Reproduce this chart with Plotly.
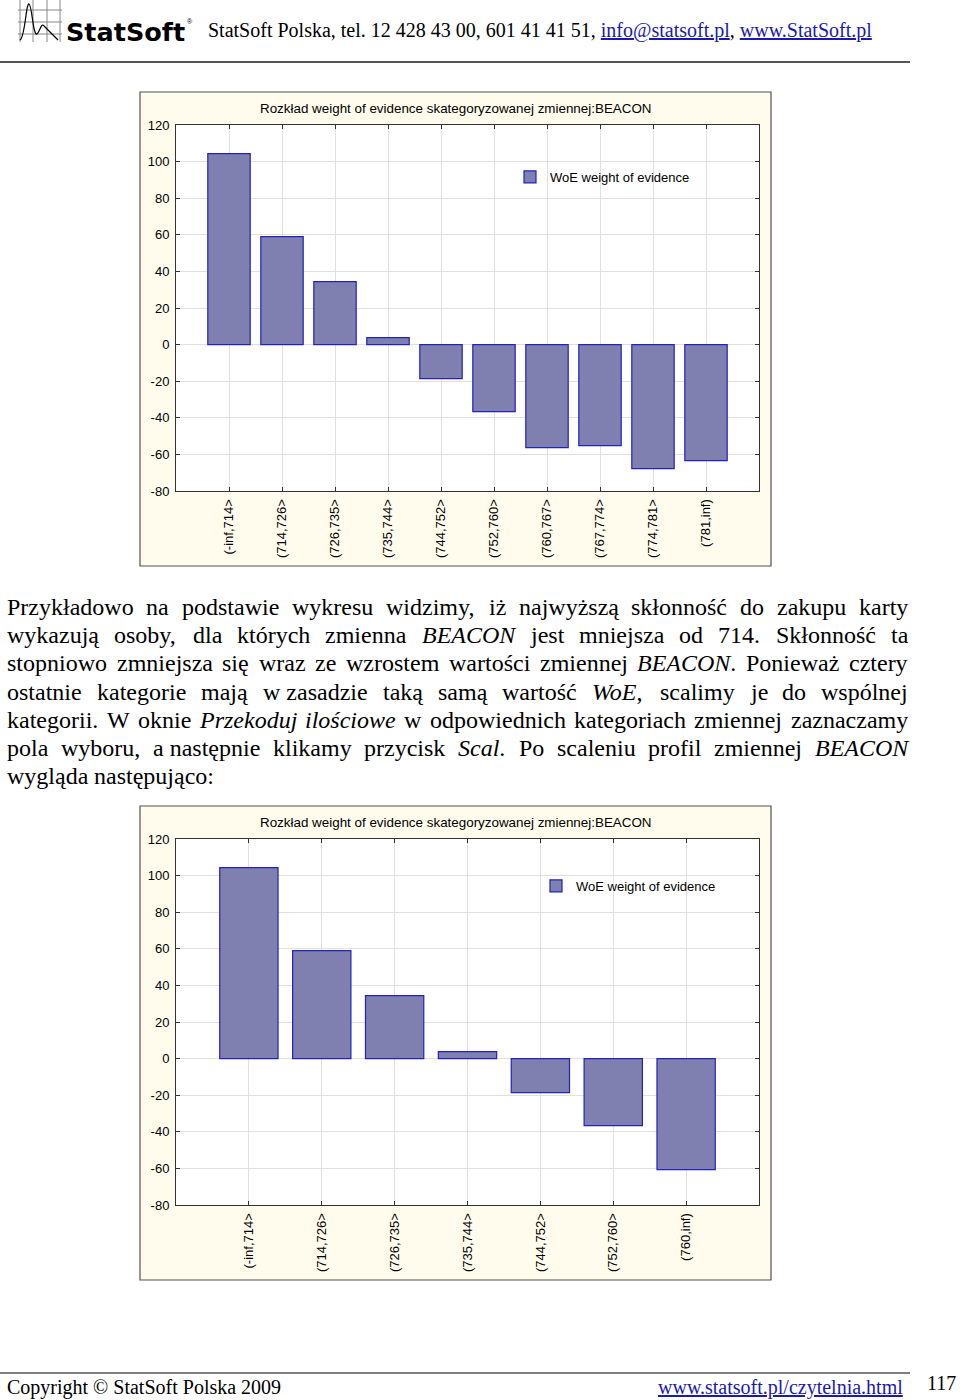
import plotly.graph_objects as go

W, H = 960, 1400

# ---------------- data ----------------
categories_1 = ["(-inf,714>", "(714,726>", "(726,735>", "(735,744>", "(744,752>",
                "(752,760>", "(760,767>", "(767,774>", "(774,781>", "(781,inf)"]
woe_1 = [104.4, 59.0, 34.4, 3.8, -18.6, -36.6, -56.3, -55.2, -67.8, -63.4]

categories_2 = ["(-inf,714>", "(714,726>", "(726,735>", "(735,744>", "(744,752>",
                "(752,760>", "(760,inf)"]
woe_2 = [104.4, 59.0, 34.4, 3.8, -18.6, -36.6, -60.7]

y_ticks = [-80, -60, -40, -20, 0, 20, 40, 60, 80, 100, 120]
y_tick_text = [str(v) for v in y_ticks]
chart_title = "Rozkład weight of evidence skategoryzowanej zmiennej:BEACON"
series_name = "WoE weight of evidence"

# paragraph (words; text between underscores is italic)
body_lines = [
    "Przykładowo na podstawie wykresu widzimy, iż najwyższą skłonność do zakupu karty",
    "wykazują osoby, dla których zmienna _BEACON_ jest mniejsza od 714. Skłonność ta",
    "stopniowo zmniejsza się wraz ze wzrostem wartości zmiennej _BEACON_. Ponieważ cztery",
    "ostatnie kategorie mają w\u00a0zasadzie taką samą wartość _WoE_, scalimy je do wspólnej",
    "kategorii. W oknie _Przekoduj_ _ilościowe_ w odpowiednich kategoriach zmiennej zaznaczamy",
    "pola wyboru, a\u00a0następnie klikamy przycisk _Scal_. Po scaleniu profil zmiennej _BEACON_",
    "wygląda następująco:",
]

# ---------------- helpers ----------------
def px(x):
    return x / W


def py(y):
    return 1 - y / H


# Times-compatible advance widths (1/1000 em) used to justify the paragraph lines
RM = dict(zip("ABCDEFGHIJKLMNOPQRSTUVWXYZ",
              [722, 667, 667, 722, 611, 556, 722, 722, 333, 389, 722, 611, 889, 722, 722, 556,
               722, 667, 556, 611, 722, 722, 944, 722, 722, 611]))
RM.update(zip("abcdefghijklmnopqrstuvwxyz",
              [444, 500, 444, 500, 444, 333, 500, 500, 278, 278, 500, 278, 778, 500, 500, 500,
               500, 333, 389, 278, 500, 500, 722, 500, 500, 444]))
IT = dict(zip("ABCDEFGHIJKLMNOPQRSTUVWXYZ",
              [611, 611, 667, 722, 611, 611, 722, 722, 333, 444, 667, 556, 833, 667, 722, 611,
               722, 611, 500, 556, 722, 611, 833, 611, 556, 556]))
IT.update(zip("abcdefghijklmnopqrstuvwxyz",
              [500, 500, 444, 500, 444, 278, 500, 500, 278, 278, 444, 278, 722, 500, 500, 500,
               500, 389, 389, 278, 500, 444, 667, 444, 444, 389]))
for t in (RM, IT):
    t.update({" ": 250, "\u00a0": 250, ",": 250, ".": 250, ":": 278})
    t.update({d: 500 for d in "0123456789"})
ACCENT = {"ą": "a", "ę": "e", "ł": "l", "ś": "s", "ż": "z", "ź": "z", "ó": "o", "ć": "c",
          "ń": "n", "Ś": "S", "Ł": "L", "Ż": "Z"}
FS = 24


def word_parts(word):
    parts = word.split("_")
    return [(p, i % 2 == 1) for i, p in enumerate(parts) if p]


def word_width(word):
    total = 0
    for text, italic in word_parts(word):
        table = IT if italic else RM
        total += sum(table.get(ACCENT.get(c, c), 500) for c in text)
    return total * FS / 1000


def word_markup(word):
    return "".join("<i>%s</i>" % t if it else t for t, it in word_parts(word))


BAR_FILL = "#7f7fb0"
BAR_LINE = "#2222c0"
CREAM = "#fffcee"
SERIF = "Liberation Serif"
SANS = "Liberation Sans"
LINK = "#1a1ab0"

fig = go.Figure()

fig.add_trace(go.Bar(x=categories_1, y=woe_1, name=series_name, width=0.8,
                     marker=dict(color=BAR_FILL, line=dict(color=BAR_LINE, width=1.2)),
                     xaxis="x", yaxis="y", legend="legend"))
fig.add_trace(go.Bar(x=categories_2, y=woe_2, name=series_name, width=0.8,
                     marker=dict(color=BAR_FILL, line=dict(color=BAR_LINE, width=1.2)),
                     xaxis="x2", yaxis="y2", legend="legend2"))

axis_common = dict(showline=True, linecolor="#333333", linewidth=1, mirror="ticks",
                   ticks="inside", ticklen=4, tickcolor="#333333", automargin=False,
                   showgrid=True, gridcolor="#e0e0e0", gridwidth=1, zeroline=False,
                   tickfont=dict(family=SANS, size=13, color="#000000"))

y_common = dict(axis_common, range=[-80, 120], tickvals=y_ticks, ticktext=y_tick_text,
                ticklabelstandoff=3)
x_common = dict(axis_common, tickangle=-90, type="category", ticklabelstandoff=2)

fig.update_layout(
    template="none",
    width=W, height=H,
    margin=dict(l=0, r=0, t=0, b=0, pad=0, autoexpand=False),
    paper_bgcolor="white", plot_bgcolor="white",
    bargap=0.2,
    xaxis=dict(x_common, domain=[px(176), px(759)], range=[-1, len(categories_1)], anchor="y"),
    yaxis=dict(y_common, domain=[py(491), py(125)], anchor="x"),
    xaxis2=dict(x_common, domain=[px(176), px(759)], range=[-1, len(categories_2)], anchor="y2"),
    yaxis2=dict(y_common, domain=[py(1205), py(839)], anchor="x2"),
    legend=dict(x=px(510), y=py(177), xanchor="left", yanchor="middle", borderwidth=0,
                bgcolor="rgba(0,0,0,0)", font=dict(family=SANS, size=13, color="#000")),
    legend2=dict(x=px(536), y=py(886), xanchor="left", yanchor="middle", borderwidth=0,
                 bgcolor="rgba(0,0,0,0)", font=dict(family=SANS, size=13, color="#000")),
    showlegend=True,
)

shapes = []
annotations = []

# chart frames (cream background boxes) and white plot areas
for top, bottom, ptop, pbot in [(92, 566, 125, 491), (806, 1280, 839, 1205)]:
    shapes.append(dict(type="rect", xref="paper", yref="paper", layer="below",
                       x0=px(140), x1=px(771), y0=py(bottom), y1=py(top),
                       fillcolor=CREAM, line=dict(color="#505050", width=1.2)))
    shapes.append(dict(type="rect", xref="paper", yref="paper", layer="below",
                       x0=px(176), x1=px(759), y0=py(pbot), y1=py(ptop),
                       fillcolor="white", line=dict(width=0)))

for ty in [108, 822]:
    annotations.append(dict(text=chart_title, xref="paper", yref="paper", x=px(456), y=py(ty),
                            xanchor="center", yanchor="middle", showarrow=False,
                            font=dict(family=SANS, size=13.4, color="#000")))

# ---------------- header ----------------
for gx in [20, 33, 47, 60]:
    shapes.append(dict(type="line", xref="paper", yref="paper", x0=px(gx), x1=px(gx),
                       y0=py(0), y1=py(42), line=dict(color="#888888", width=1)))
for gy in [10, 22, 34]:
    shapes.append(dict(type="line", xref="paper", yref="paper", x0=px(18), x1=px(62),
                       y0=py(gy), y1=py(gy), line=dict(color="#888888", width=1)))
curve = "M {} {} C {} {} {} {} {} {} C {} {} {} {} {} {} C {} {} {} {} {} {}".format(
    px(20), py(40), px(25), py(38), px(26), py(3), px(29), py(4),
    px(32), py(5), px(33), py(36), px(37), py(34),
    px(40), py(32), px(41), py(22), px(44), py(26))
shapes.append(dict(type="path", xref="paper", yref="paper", path=curve,
                   line=dict(color="#000", width=1.2)))
shapes.append(dict(type="line", xref="paper", yref="paper", x0=px(44), x1=px(58),
                   y0=py(26), y1=py(40), line=dict(color="#000", width=1.2)))

annotations.append(dict(text="<b>StatSoft</b>", xref="paper", yref="paper",
                        x=px(64), y=py(32), xanchor="left", yanchor="middle", showarrow=False,
                        font=dict(family="DejaVu Sans", size=25.5, color="#000")))
annotations.append(dict(text="®", xref="paper", yref="paper",
                        x=px(185), y=py(22), xanchor="left", yanchor="middle", showarrow=False,
                        font=dict(family=SANS, size=7, color="#000")))
annotations.append(dict(
    text="StatSoft Polska, tel. 12 428 43 00, 601 41 41 51, "
         "<span style='color:%s'><u>info@statsoft.pl</u></span>, "
         "<span style='color:%s'><u>www.StatSoft.pl</u></span>" % (LINK, LINK),
    xref="paper", yref="paper", x=px(206), y=py(31), xanchor="left", yanchor="middle",
    showarrow=False, font=dict(family=SERIF, size=20, color="#000")))
shapes.append(dict(type="line", xref="paper", yref="paper", x0=0, x1=px(910),
                   y0=py(62), y1=py(62), line=dict(color="#555555", width=2)))

# ---------------- justified paragraph ----------------
X_LEFT, X_RIGHT = 5, 906
for i, line in enumerate(body_lines):
    ly = 607 + 28.2 * i
    words = line.split(" ")
    widths = [word_width(w) for w in words]
    last = i == len(body_lines) - 1
    if last or len(words) == 1:
        gap = 0.25 * FS
    else:
        gap = (X_RIGHT - X_LEFT - sum(widths)) / (len(words) - 1)
    x = X_LEFT
    for w, wd in zip(words, widths):
        annotations.append(dict(text=word_markup(w), xref="paper", yref="paper", x=px(x), y=py(ly),
                                xanchor="left", yanchor="middle", showarrow=False,
                                font=dict(family=SERIF, size=FS, color="#000")))
        x += wd + gap

# ---------------- footer ----------------
shapes.append(dict(type="line", xref="paper", yref="paper", x0=0, x1=px(910),
                   y0=py(1373), y1=py(1373), line=dict(color="#555555", width=1.5)))
annotations.append(dict(text="Copyright © StatSoft Polska 2009", xref="paper", yref="paper",
                        x=px(5), y=py(1387), xanchor="left", yanchor="middle", showarrow=False,
                        font=dict(family=SERIF, size=20, color="#000")))
annotations.append(dict(text="<u>www.statsoft.pl/czytelnia.html</u>", xref="paper", yref="paper",
                        x=px(905), y=py(1387), xanchor="right", yanchor="middle", showarrow=False,
                        font=dict(family=SERIF, size=20, color=LINK)))
annotations.append(dict(text="117", xref="paper", yref="paper",
                        x=px(958), y=py(1383), xanchor="right", yanchor="middle", showarrow=False,
                        font=dict(family=SERIF, size=20, color="#000")))

fig.update_layout(shapes=shapes, annotations=annotations)
fig.write_html("out.html", config={"displayModeBar": False},
               post_script="document.body.style.margin='0px';")
